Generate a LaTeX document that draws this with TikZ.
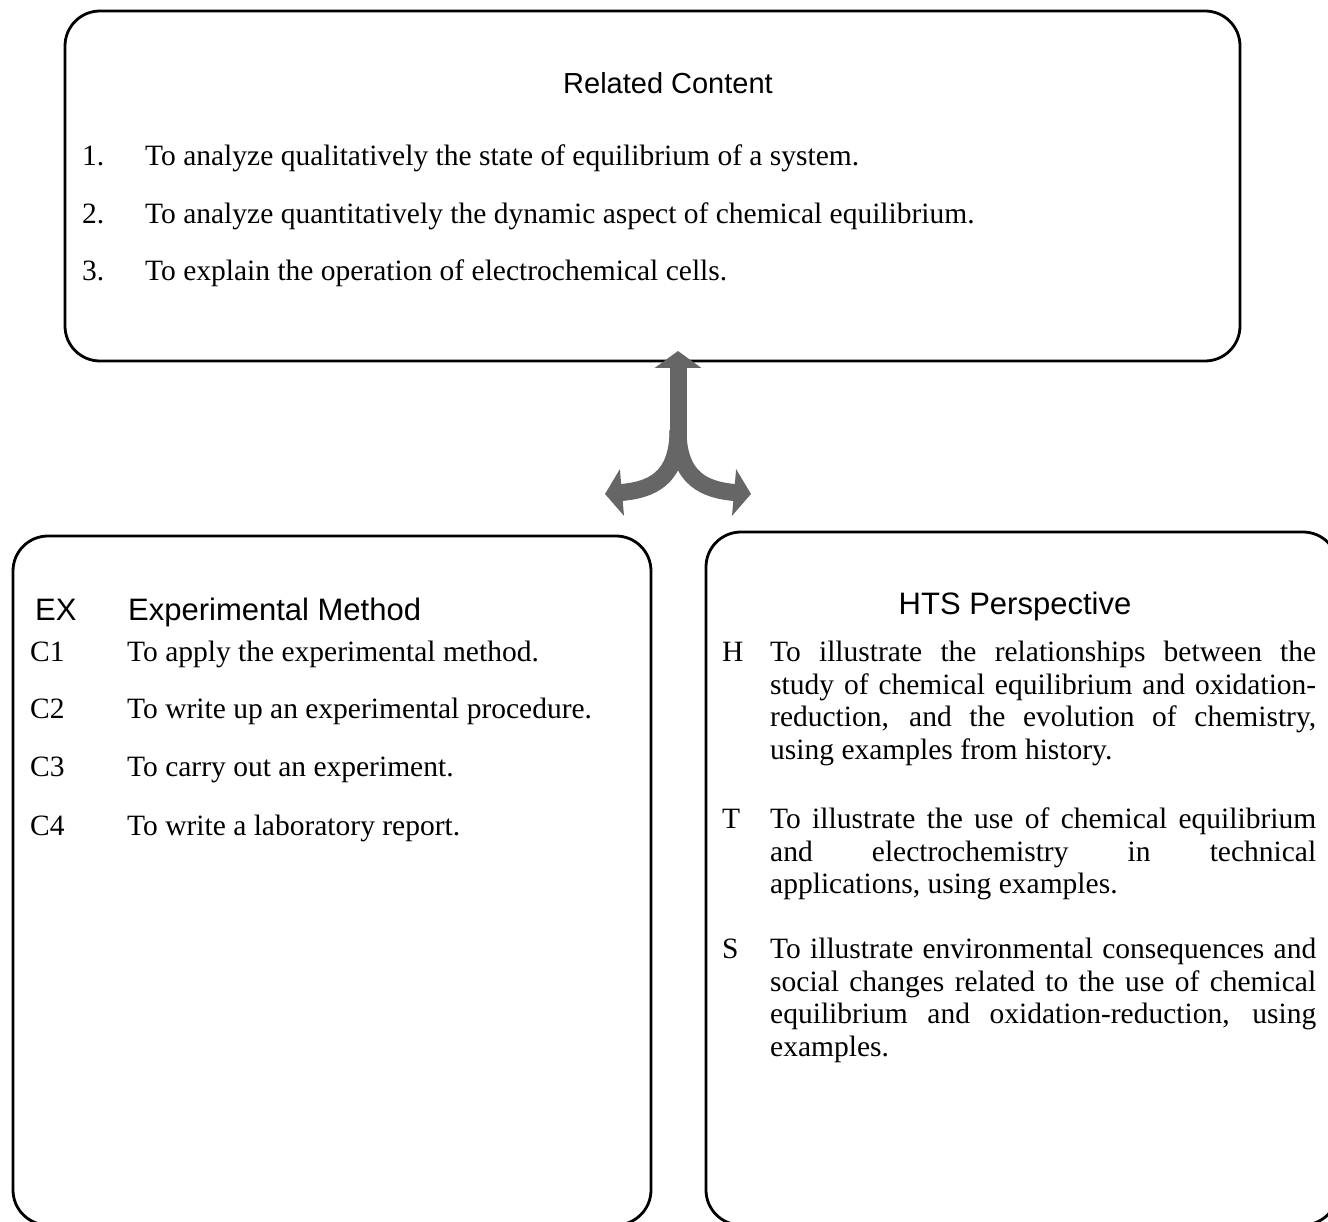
\documentclass[tikz,border=0pt]{standalone}
\usepackage{fontspec}
\setmainfont{Liberation Serif}
\newfontfamily\headfont{Liberation Sans}
\usetikzlibrary{arrows.meta}

\definecolor{arrowgray}{HTML}{666666}
% one justified line of the HTS column
\newcommand{\jline}[1]{\makebox[546pt][s]{#1}}

\begin{document}
\begin{tikzpicture}[x=1pt,y=-1pt,
  box/.style={draw, line width=2.8pt, rounded corners=35pt, inner sep=0pt},
  head/.style={font=\headfont\fontsize{31}{36}\selectfont, inner sep=0pt},
  txt/.style={font=\fontsize{29.5}{32.5}\selectfont, inner sep=0pt, anchor=base west},
  para/.style={font=\fontsize{29.5}{32.5}\selectfont, inner sep=0pt, anchor=north west, align=left},
  bigarrow/.style={draw=arrowgray, line width=17pt, -{Triangle[width=46pt,length=17pt]}}]

\useasboundingbox (0,0) rectangle (1328,1222);
\clip (0,0) rectangle (1328,1222);

% the three frames
\node[box, minimum width=1175pt, minimum height=350pt] (content) at (652.5,186) {};
\node[box, minimum width=638pt, minimum height=689pt] (exbox) at (332,880.5) {};
\node[box, minimum width=632pt, minimum height=693pt] (htsbox) at (1022,878.5) {};

% related content
\node[head, font=\headfont\fontsize{29}{34}\selectfont] (rctitle) at (668,83) {Related Content};
\node[txt] (n1) at (82,166) {1.};
\node[txt] (t1) at (145,166) {To analyze qualitatively the state of equilibrium of a system.};
\node[txt] (n2) at (82,224) {2.};
\node[txt] (t2) at (145,224) {To analyze quantitatively the dynamic aspect of chemical equilibrium.};
\node[txt] (n3) at (82,281) {3.};
\node[txt] (t3) at (145,281) {To explain the operation of electrochemical cells.};

% experimental method
\node[head, anchor=base west] (exlab) at (35,620) {EX};
\node[head, anchor=base west] (extitle) at (128,620) {Experimental Method};
\node[txt] (c1lab) at (30,661) {C1};
\node[txt] (c1) at (127,661) {To apply the experimental method.};
\node[txt] (c2lab) at (30,718) {C2};
\node[txt] (c2) at (127,718) {To write up an experimental procedure.};
\node[txt] (c3lab) at (30,776) {C3};
\node[txt] (c3) at (127,776) {To carry out an experiment.};
\node[txt] (c4lab) at (30,835) {C4};
\node[txt] (c4) at (127,835) {To write a laboratory report.};

% HTS perspective
\node[head] (htstitle) at (1015,606) {HTS Perspective};
\node[txt] (hlab) at (722,661) {H};
\node[para] (htext) at (770,641) {\jline{To illustrate the relationships between the}\\
  \jline{study of chemical equilibrium and oxidation-}\\
  \jline{reduction, and the evolution of chemistry,}\\
  using examples from history.};
\node[txt] (tlab) at (722,828) {T};
\node[para] (ttext) at (770,808) {\jline{To illustrate the use of chemical equilibrium}\\
  \jline{and electrochemistry in technical}\\
  applications, using examples.};
\node[txt] (slab) at (722,958) {S};
\node[para] (stext) at (770,938) {\jline{To illustrate environmental consequences and}\\
  \jline{social changes related to the use of chemical}\\
  \jline{equilibrium and oxidation-reduction, using}\\
  examples.};

% the forked arrow
\coordinate (uptip) at (678,351);
\coordinate (split) at (678,445);
\coordinate (fork) at (678,430);
\coordinate (ltip) at (605,494);
\coordinate (rtip) at (751,494);
\draw[bigarrow] (split) -- (uptip);
\draw[bigarrow] (fork) .. controls +(0,50) and +(45,-4) .. (ltip);
\draw[bigarrow] (fork) .. controls +(0,50) and +(-45,-4) .. (rtip);

\end{tikzpicture}
\end{document}
